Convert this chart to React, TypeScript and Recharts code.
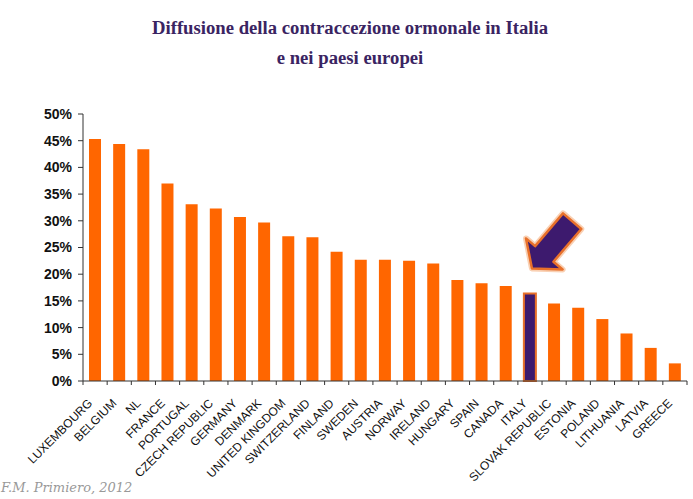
import { Bar, BarChart, Cell, ReferenceDot, XAxis, YAxis } from "recharts";

const countries = [
  "LUXEMBOURG", "BELGIUM", "NL", "FRANCE", "PORTUGAL", "CZECH REPUBLIC",
  "GERMANY", "DENMARK", "UNITED KINGDOM", "SWITZERLAND", "FINLAND", "SWEDEN",
  "AUSTRIA", "NORWAY", "IRELAND", "HUNGARY", "SPAIN", "CANADA", "ITALY",
  "SLOVAK REPUBLIC", "ESTONIA", "POLAND", "LITHUANIA", "LATVIA", "GREECE",
];
const share = [
  45.3, 44.4, 43.4, 37.0, 33.1, 32.3, 30.7, 29.7, 27.1, 26.9, 24.2, 22.7,
  22.7, 22.5, 22.0, 18.9, 18.3, 17.8, 16.4, 14.5, 13.7, 11.6, 8.9, 6.2, 3.3,
];
const highlight = "ITALY";
const yTicks = [0, 5, 10, 15, 20, 25, 30, 35, 40, 45, 50];

const data = countries.map((name, i) => ({ name, value: share[i] }));

const W = 693;
const H = 499;
const LEFT = 83;
const RIGHT = 6;
const band = (W - LEFT - RIGHT) / countries.length;

const ORANGE = "#FF6600";
const PURPLE = "#3D1A6E";

function CountryTick(props: any) {
  const { x, y, payload, index } = props;
  const tx = x - 2;
  const ty = y + 19;
  return (
    <g>
      <line x1={x + band / 2} x2={x + band / 2} y1={y - 4} y2={y} stroke="#333" />
      {index === 0 && (
        <line x1={x - band / 2} x2={x - band / 2} y1={y - 4} y2={y} stroke="#333" />
      )}
      <text
        x={tx}
        y={ty}
        transform={`rotate(-45 ${tx} ${ty})`}
        textAnchor="end"
        fontSize={12}
        fontFamily="Liberation Sans, Arial, sans-serif"
        fill="#111"
      >
        {payload.value}
      </text>
    </g>
  );
}

// freccia che indica l'Italia
function Arrow(props: any) {
  const { cx, cy } = props;
  if (cx == null || cy == null) return null;
  const tipX = cx + 2;
  const tipY = cy - 25;
  const u = [-0.648, 0.762];
  const v = [0.762, 0.648];
  const local = [
    [0, 0], [19, -24], [19, -12], [62, -12], [62, 12], [19, 12], [19, 24],
  ];
  const pts = local
    .map(([a, b]) => `${tipX - a * u[0] + b * v[0]},${tipY - a * u[1] + b * v[1]}`)
    .join(" ");
  return (
    <g>
      <polygon points={pts} fill="none" stroke="#F5B080" strokeWidth={6} strokeLinejoin="round" opacity={0.6} />
      <polygon points={pts} fill={PURPLE} stroke="#E8702A" strokeWidth={2.5} strokeLinejoin="round" />
    </g>
  );
}

export default function App() {
  return (
    <div
      style={{
        position: "absolute",
        left: 0,
        top: 0,
        width: W,
        height: H,
        background: "#fff",
        overflow: "hidden",
      }}
    >
      <div
        style={{
          position: "absolute",
          left: 0,
          width: 700,
          top: 13,
          textAlign: "center",
          fontFamily: "Liberation Serif, Times New Roman, serif",
          fontWeight: "bold",
          fontSize: 18.7,
          lineHeight: "30px",
          color: "#3A2462",
        }}
      >
        <div>Diffusione della contraccezione ormonale in Italia</div>
        <div>e nei paesi europei</div>
      </div>
      <BarChart
        width={W}
        height={H}
        data={data}
        margin={{ top: 114, right: RIGHT, bottom: 0, left: 0 }}
        barSize={12}
      >
        <XAxis
          dataKey="name"
          interval={0}
          height={118}
          tickLine={false}
          tickSize={4}
          tickMargin={0}
          axisLine={{ stroke: "#333" }}
          tick={<CountryTick />}
        />
        <YAxis
          width={LEFT}
          domain={[0, 50]}
          ticks={yTicks}
          interval={0}
          tickSize={5}
          tickMargin={6}
          tickFormatter={(v) => `${v}%`}
          axisLine={{ stroke: "#333" }}
          tickLine={{ stroke: "#333" }}
          tick={{
            fontSize: 14,
            fontWeight: "bold",
            fontFamily: "Liberation Sans, Arial, sans-serif",
            fill: "#111",
          }}
        />
        <Bar dataKey="value" isAnimationActive={false}>
          {data.map((d) => (
            <Cell
              key={d.name}
              fill={d.name === highlight ? PURPLE : ORANGE}
              stroke={d.name === highlight ? "#E8702A" : "none"}
              strokeWidth={d.name === highlight ? 2 : 0}
            />
          ))}
        </Bar>
        <ReferenceDot
          x={highlight}
          y={share[countries.indexOf(highlight)]}
          ifOverflow="visible"
          shape={(p: any) => <Arrow {...p} />}
        />
      </BarChart>
      <div
        style={{
          position: "absolute",
          left: 1,
          top: 480,
          fontFamily: "DejaVu Serif, serif",
          fontStyle: "italic",
          fontSize: 13,
          color: "#999",
        }}
      >
        F.M. Primiero, 2012
      </div>
    </div>
  );
}
